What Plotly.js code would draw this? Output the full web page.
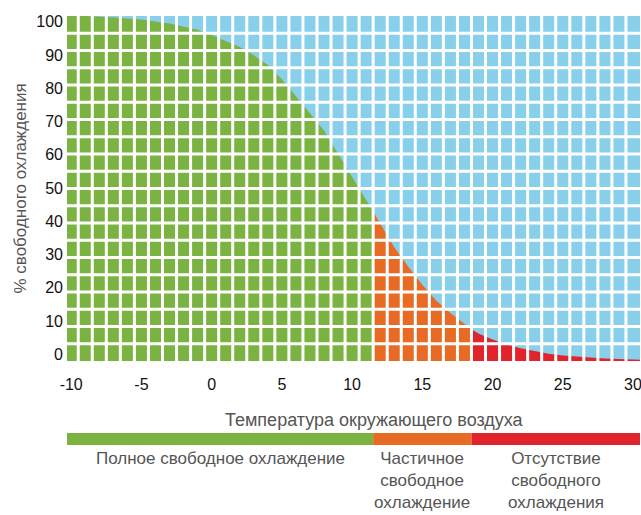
<!DOCTYPE html>
<html><head><meta charset="utf-8">
<script src="https://cdn.plot.ly/plotly-3.0.1.min.js"></script>
<style>html,body{margin:0;padding:0;background:#fff}</style>
</head><body><div id="chart" style="width:641px;height:515px"></div>
<script>
// ---- data ----
const temps = [-10.3,-9,-7,-5,-3,-1,0,1,2,3,4,5,6,7,8,9,10,11,11.5,12,13,14,15,16,17,18,18.5,19,20,21,22,23,24,25,26,27,28,29,30,30.5];
const freeCoolingPct = [100,100,99.6,99,97.8,96,94.5,92.8,91,88.6,85.8,81.7,76.9,71.8,66.8,60,53.4,46.3,43.3,39.9,33,27.3,22.1,17.5,13.9,10.8,9.2,8,6.2,4.8,3.7,2.8,2.1,1.6,1.2,1.0,0.7,0.5,0.4,0.35];
const zoneNames = ['Полное свободное охлаждение', 'Частичное<br>свободное<br>охлаждение', 'Отсутствие<br>свободного<br>охлаждения'];
const zoneStart = [-10.3, 11.5, 18.5];
const zoneEnd = [11.5, 18.5, 30.5];
const xTickVals = [-10,-5,0,5,10,15,20,25,30];
const xTickText = ['-10','-5','0','5','10','15','20','25','30'];
const yTickVals = [0,10,20,30,40,50,60,70,80,90,100];
const xTitle = 'Температура окружающего воздуха';
const yTitle = '% свободного охлаждения';

// ---- styles ----
const zoneColors = ['#7bb342', '#e86b25', '#e1242b'];
const BLUE = '#88cfeb';
const GRAY = '#555555';
const FONT = 'Liberation Sans, Arial, sans-serif';
const xRange = [-10.3, 30.5];

const traces = zoneNames.map((n, i) => {
  const xs = [], ys = [];
  temps.forEach((t, k) => { if (t >= zoneStart[i] && t <= zoneEnd[i]) { xs.push(t); ys.push(freeCoolingPct[k]); } });
  return {x: xs, y: ys, type: 'scatter', mode: 'lines', line: {width: 0, color: zoneColors[i]},
          fill: 'tozeroy', fillcolor: zoneColors[i], hoverinfo: 'skip', showlegend: false};
});
// invisible trace to carry the tick-label axis
traces.push({x: temps, y: freeCoolingPct, yaxis: 'y2', type: 'scatter', mode: 'lines',
             opacity: 0, line: {width: 0}, hoverinfo: 'skip', showlegend: false});

const shapes = [];
for (let v = Math.ceil(xRange[0] - 0.5) + 0.5; v < xRange[1]; v += 1) {
  shapes.push({type: 'line', xref: 'x', yref: 'paper', x0: v, x1: v, y0: 0, y1: 1,
               line: {color: '#ffffff', width: 3}, layer: 'above'});
}
for (let v = 5; v < 100; v += 5) {
  shapes.push({type: 'line', xref: 'paper', yref: 'y', x0: 0, x1: 1, y0: v, y1: v,
               line: {color: '#ffffff', width: 3}, layer: 'above'});
}
zoneNames.forEach((n, i) => {
  shapes.push({type: 'rect', xref: 'x', yref: 'paper', x0: zoneStart[i], x1: zoneEnd[i],
               y0: -0.2435, y1: -0.2087, fillcolor: zoneColors[i], line: {width: 0}, layer: 'above'});
});

const annotations = zoneNames.map((n, i) => ({
  text: n, xref: 'x', yref: 'paper', x: (zoneStart[i] + zoneEnd[i]) / 2, y: -0.250,
  xanchor: 'center', yanchor: 'top', showarrow: false, align: 'center',
  font: {family: FONT, size: 17, color: GRAY}
}));
annotations.push({text: xTitle, xref: 'paper', yref: 'paper', x: 0.536, y: -0.171,
  xanchor: 'center', yanchor: 'middle', showarrow: false, font: {family: FONT, size: 18, color: GRAY}});
annotations.push({text: yTitle, xref: 'paper', yref: 'paper', x: -0.082, y: 0.5, textangle: -90,
  xanchor: 'center', yanchor: 'middle', showarrow: false, font: {family: FONT, size: 17, color: GRAY}});

const layout = {
  width: 641, height: 515,
  margin: {l: 67, r: 1, t: 16, b: 154, pad: 0},
  paper_bgcolor: '#ffffff', plot_bgcolor: BLUE,
  showlegend: false,
  xaxis: {range: xRange, tickmode: 'array', tickvals: xTickVals, ticktext: xTickText, showgrid: false, zeroline: false,
          showline: false, ticks: '', ticklabelstandoff: 12, automargin: false, fixedrange: true,
          ticklabeloverflow: 'allow',
          tickfont: {family: FONT, size: 16, color: '#111'}},
  yaxis: {range: [0, 100], showgrid: false, zeroline: false, showline: false, ticks: '',
          showticklabels: false, fixedrange: true},
  yaxis2: {overlaying: 'y', side: 'left', range: [-2, 101.7], tickmode: 'array', tickvals: yTickVals,
           showgrid: false, zeroline: false, showline: false, ticks: '', ticklabelstandoff: 3,
           automargin: false, fixedrange: true, ticklabeloverflow: 'allow',
           tickfont: {family: FONT, size: 16, color: '#111'}},
  shapes: shapes,
  annotations: annotations
};
Plotly.newPlot('chart', traces, layout, {displayModeBar: false, staticPlot: true});
</script></body></html>
